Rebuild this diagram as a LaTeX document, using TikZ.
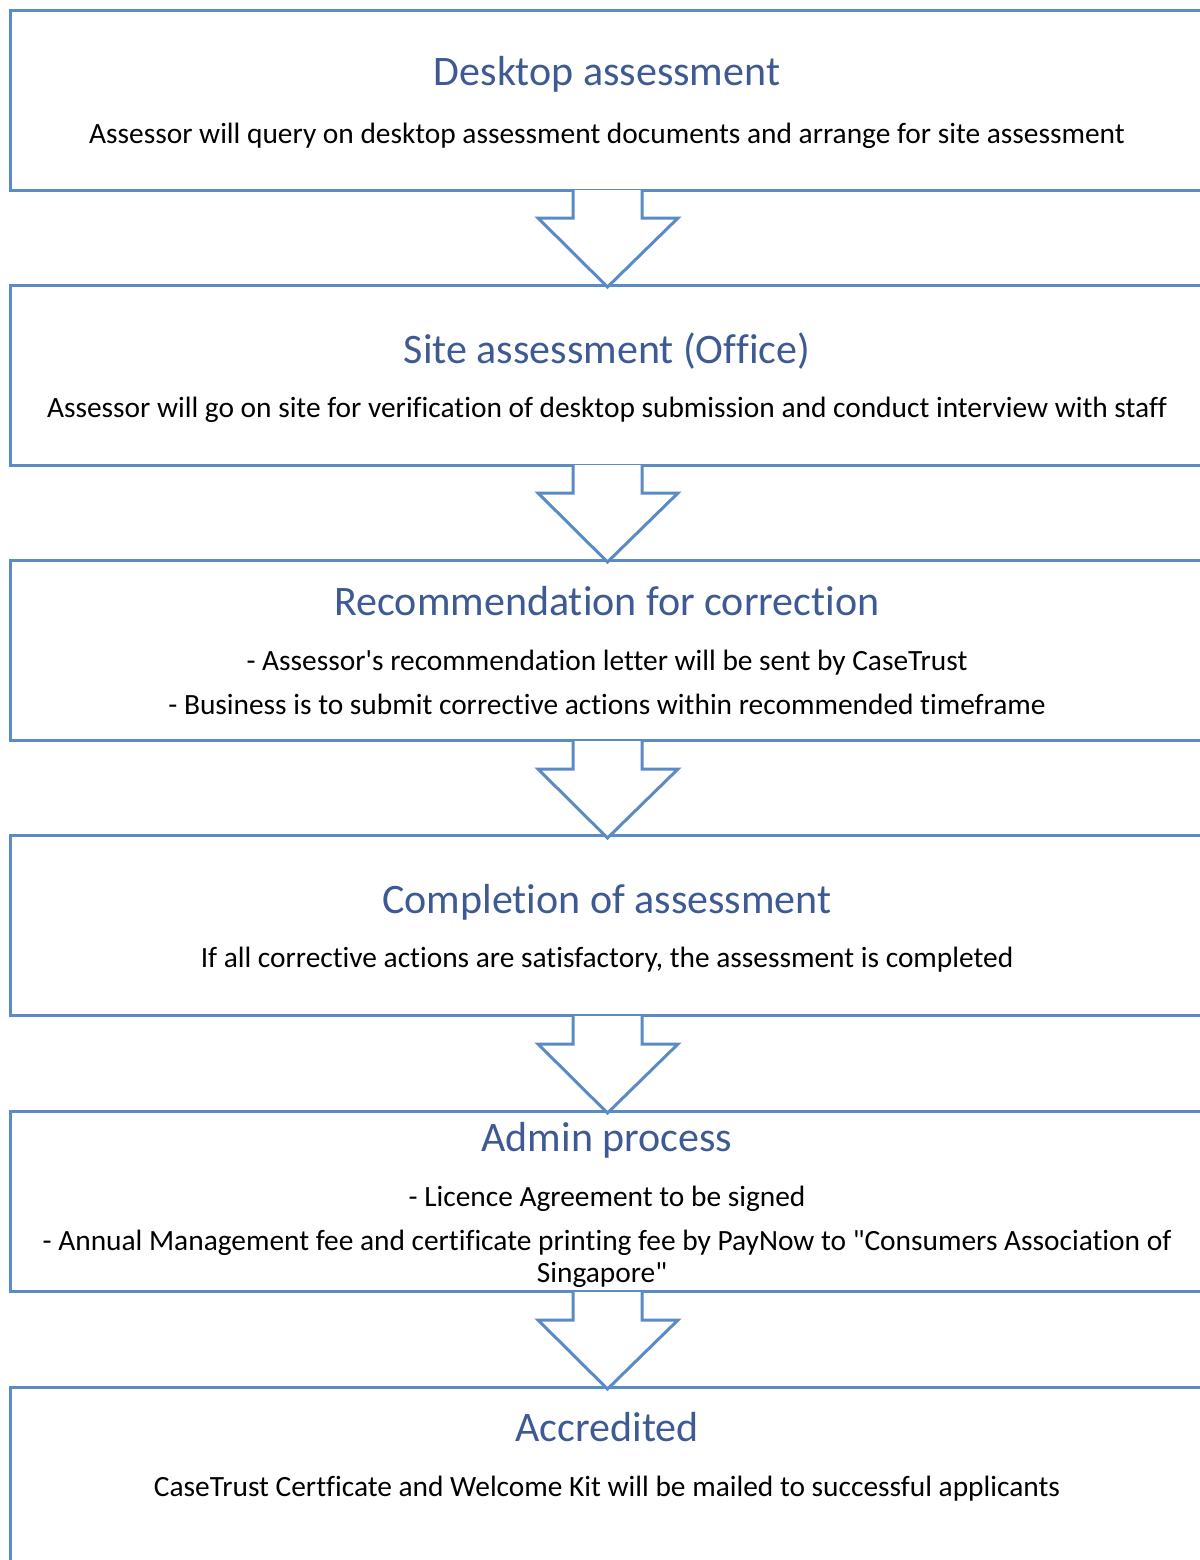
\documentclass[tikz,border=0pt]{standalone}
\usepackage{fontspec}
\setmainfont{Carlito}[Ligatures={TeXOff,NoCommon}]
\definecolor{boxline}{HTML}{5B8BC5}
\definecolor{titlecol}{HTML}{3E5A94}
\begin{document}
\begin{tikzpicture}[x=0.5pt,y=-0.5pt,
  stage/.style={draw=boxline,line width=1.5pt},
  titletext/.style={font=\fontsize{21}{24}\selectfont,text=titlecol,inner sep=0pt,anchor=base},
  bodytext/.style={font=\fontsize{14.7}{17}\selectfont,text=black,inner sep=0pt,anchor=base,align=center},
  downarrow/.style={draw=boxline,line width=1.5pt,fill=white,line join=miter}]
\useasboundingbox (0,0) rectangle (1200,1560);
\clip (0,0) rectangle (1200,1560);
% boxes
\foreach \n/\t in {1/10,2/285,3/560,4/835,5/1111,6/1387}{
  \pgfmathsetmacro{\b}{\t+180}
  \draw[stage] (10,\t) coordinate (b\n tl) rectangle (1210,\b) coordinate (b\n br);
}
% arrows between boxes
\foreach \n/\t in {1/190,2/465,3/741,4/1016,5/1292}{
  \pgfmathsetmacro{\w}{\t+28}
  \pgfmathsetmacro{\p}{\t+97}
  \draw[downarrow] (573,\t) -- (573,\w) -- (538,\w) -- (607.5,\p) -- (678,\w) -- (642,\w) -- (642,\t);
}
% texts
\node[titletext] (t1) at (607,85) {Desktop assessment};
\node[bodytext] (d1) at (607,143) {Assessor will query on desktop assessment documents and arrange for site assessment};

\node[titletext] (t2) at (607,363) {Site assessment (Office)};
\node[bodytext] (d2) at (607,417) {Assessor will go on site for verification of desktop submission and conduct interview with staff};

\node[titletext] (t3) at (607,615) {Recommendation for correction};
\node[bodytext] (d3a) at (607,670) {- Assessor's recommendation letter will be sent by CaseTrust};
\node[bodytext] (d3b) at (607,714) {- Business is to submit corrective actions within recommended timeframe};

\node[titletext] (t4) at (607,913) {Completion of assessment};
\node[bodytext] (d4) at (607,967) {If all corrective actions are satisfactory, the assessment is completed};

\node[titletext] (t5) at (607,1151) {Admin process};
\node[bodytext] (d5a) at (607,1206) {- Licence Agreement to be signed};
\node[bodytext] (d5b) at (607,1250) {- Annual Management fee and certificate printing fee by PayNow to "Consumers Association of};
\node[bodytext] (d5c) at (602,1282) {Singapore"};

\node[titletext] (t6) at (607,1441) {Accredited};
\node[bodytext] (d6) at (607,1496) {CaseTrust Certficate and Welcome Kit will be mailed to successful applicants};
\end{tikzpicture}
\end{document}
